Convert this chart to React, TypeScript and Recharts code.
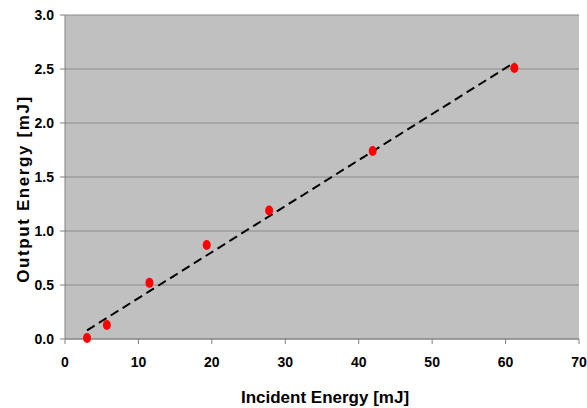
import React from "react";
import { ScatterChart, Scatter, XAxis, YAxis, CartesianGrid } from "recharts";

const incident = [3.0, 5.7, 11.5, 19.3, 27.8, 41.9, 61.2];
const output = [0.01, 0.13, 0.52, 0.87, 1.19, 1.74, 2.51];
const fitX = [3.0, 61.2];
const fitY = [0.08, 2.56];
const xTicks = [0, 10, 20, 30, 40, 50, 60, 70];
const yTicks = [0, 0.5, 1.0, 1.5, 2.0, 2.5, 3.0];

const points = incident.map((x, i) => ({ x, y: output[i] }));
const fit = fitX.map((x, i) => ({ x, y: fitY[i] }));

const font = "Liberation Sans, Arial, sans-serif";
const tickStyle = { fontFamily: font, fontWeight: 700, fontSize: 14, fill: "#000" };

const YLabel = (props: any) => {
  const vb = props.viewBox || {};
  const cx = vb.x + 23;
  const cy = vb.y + vb.height / 2 + 12;
  return (
    <text
      x={cx}
      y={cy}
      transform={`rotate(-90 ${cx} ${cy})`}
      textAnchor="middle"
      dominantBaseline="central"
      style={{ fontFamily: font, fontWeight: 700, fontSize: 17, letterSpacing: 1.6, fill: "#000" }}
    >
      Output Energy [mJ]
    </text>
  );
};

const XLabel = (props: any) => {
  const vb = props.viewBox || {};
  const cx = vb.x + vb.width / 2 + 3;
  const cy = 397;
  return (
    <text
      x={cx}
      y={cy}
      textAnchor="middle"
      dominantBaseline="central"
      style={{ fontFamily: font, fontWeight: 700, fontSize: 17, fill: "#000" }}
    >
      Incident Energy [mJ]
    </text>
  );
};

export default function App() {
  return (
    <div style={{ position: "absolute", left: 0, top: 0, background: "#fff" }}>
      <ScatterChart width={587} height={408} margin={{ top: 15, right: 8, bottom: 0, left: 0 }}>
        <CartesianGrid vertical={false} fill="#c0c0c0" stroke="#8a8a8a" strokeWidth={1} />
        <XAxis
          type="number"
          dataKey="x"
          domain={[0, 70]}
          ticks={xTicks}
          height={69}
          stroke="#808080"
          tickSize={5}
          tick={tickStyle}
          tickMargin={13}
          label={<XLabel />}
        />
        <YAxis
          type="number"
          dataKey="y"
          domain={[0, 3]}
          ticks={yTicks}
          width={65}
          stroke="#808080"
          tickSize={5}
          tickMargin={6}
          tick={tickStyle}
          tickFormatter={(v: number) => v.toFixed(1)}
          label={<YLabel />}
        />
        <Scatter
          data={fit}
          isAnimationActive={false}
          line={{ stroke: "#000", strokeWidth: 2, strokeDasharray: "9 5" }}
          shape={() => <g />}
        />
        <Scatter data={points} isAnimationActive={false} fill="#ff0000" shape={(p: any) => <ellipse cx={p.cx} cy={p.cy} rx={4} ry={5} fill="#ff0000" />} />
      </ScatterChart>
    </div>
  );
}
